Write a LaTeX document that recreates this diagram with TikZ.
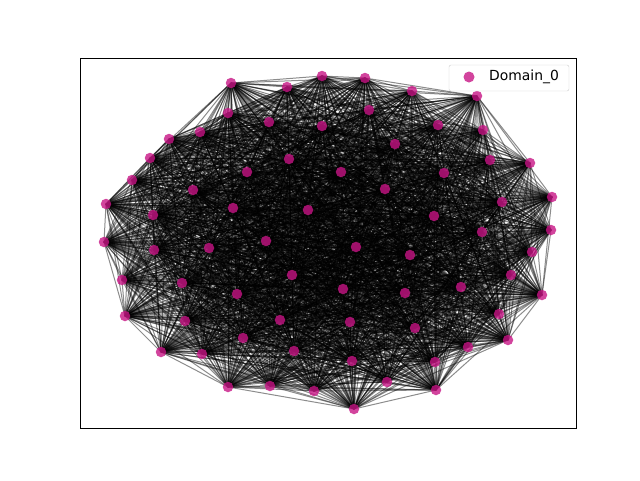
\documentclass[tikz,border=0pt]{standalone}
\usepackage{fontspec}
\setmainfont{DejaVu Sans}
\usetikzlibrary{backgrounds}
\definecolor{violetred}{RGB}{199,21,133}
\definecolor{framegray}{RGB}{204,204,204}

\begin{document}
\begin{tikzpicture}[x=1pt,y=-1pt,
  vtx/.style={circle,fill=violetred,fill opacity=0.8,inner sep=0pt,minimum size=10.5pt},
  link/.style={black,opacity=0.45,line width=1pt}]
  \useasboundingbox (0,0) rectangle (640,480);
  % vertices of Domain_0
  \foreach \k/\x/\y in {1/231/83, 2/287/87, 3/322/76, 4/365/78, 5/412/91, 6/477/96,
      7/483/130, 8/530/163, 9/552/197, 10/551/230, 11/542/295, 12/508/340,
      13/468/347, 14/436/390, 15/387/382, 16/354/409, 17/314/391, 18/270/386,
      19/228/387, 20/202/354, 21/161/352, 22/125/316, 23/122/280, 24/104/242,
      25/106/204, 26/132/180, 27/150/158, 28/169/139, 29/200/132, 30/228/113,
      31/269/122, 32/322/126, 33/369/110, 34/395/144, 35/438/125, 36/490/160,
      37/502/202, 38/482/232, 39/532/252, 40/511/275, 41/499/314, 42/461/287,
      43/434/216, 44/444/173, 45/385/189, 46/341/172, 47/289/159, 48/247/172,
      49/193/190, 50/153/215, 51/154/250, 52/209/248, 53/233/208, 54/308/210,
      55/266/241, 56/356/247, 57/410/255, 58/292/275, 59/343/289, 60/405/293,
      61/237/294, 62/182/283, 63/185/321, 64/243/338, 65/280/320, 66/294/351,
      67/350/322, 68/352/361, 69/415/328, 70/435/362}
    \node[vtx] (n\k) at (\x,\y) {};
  % edges
  \begin{scope}[on background layer]
    \foreach \i in {1,...,69}{
      \pgfmathtruncatemacro{\first}{\i+1}
      \foreach \j in {\first,...,70}{
        \pgfmathtruncatemacro{\h}{mod(\i*37+\j*53+mod(\i*\j,97)*17,100)}
        \ifnum\h<93 \draw[link] (n\i.center) -- (n\j.center);\fi
      }
    }
  \end{scope}
  \draw[line width=0.8pt] (80,58) rectangle (576,428);
  % legend
  \node[draw=framegray,fill=white,fill opacity=0.8,rounded corners=2pt,
    minimum width=120pt,minimum height=26pt] (legend) at (509,78) {};
  \node[vtx,minimum size=11pt] (key) at (469,77) {};
  \node[anchor=west,font=\fontsize{13.9}{16}\selectfont,inner sep=0pt] (keytext) at (489,77) {Domain\_0};
\end{tikzpicture}
\end{document}
